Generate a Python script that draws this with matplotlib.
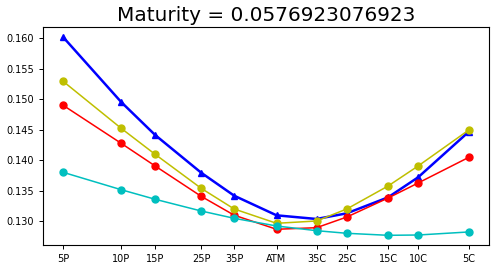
import matplotlib
matplotlib.use("Agg")
import matplotlib.pyplot as plt

# strike grid (non uniform spacing, as on the picture)
labels = ["5P", "10P", "15P", "25P", "35P", "ATM", "35C", "25C", "15C", "10C", "5C"]
strikes = [0.0, 58.0, 92.0, 138.0, 171.0, 213.4, 253.4, 283.7, 325.0, 355.0, 405.7]

vol_blue = [0.1602, 0.14956, 0.14415, 0.13797, 0.1342, 0.13098, 0.13038, 0.13131, 0.13393, 0.13721, 0.14469]
vol_yellow = [0.15295, 0.14525, 0.14098, 0.13541, 0.13202, 0.12967, 0.13005, 0.13202, 0.13579, 0.13907, 0.14497]
vol_red = [0.14902, 0.14279, 0.13907, 0.1341, 0.1310, 0.12869, 0.12895, 0.1307, 0.13382, 0.13628, 0.14049]
vol_cyan = [0.13803, 0.13518, 0.13361, 0.13169, 0.13049, 0.12923, 0.12846, 0.12803, 0.1277, 0.12775, 0.12825]

maturity = 0.0576923076923

fig = plt.figure(figsize=(5, 2.69), dpi=100)
ax = fig.add_axes([0.086, 0.089, 0.892, 0.811])

ax.plot(strikes, vol_blue, "b^-", lw=1.8, ms=5)
ax.plot(strikes, vol_red, "ro-", lw=1.1, ms=5)
ax.plot(strikes, vol_yellow, "yo-", lw=1.1, ms=5)
ax.plot(strikes, vol_cyan, "co-", lw=1.1, ms=5)

ax.set_xticks(strikes)
ax.set_xticklabels(labels)
ax.set_yticks([0.130, 0.135, 0.140, 0.145, 0.150, 0.155, 0.160])
ax.set_ylim(0.1261, 0.1619)
ax.tick_params(labelsize=7, length=3, width=0.7)
for s in ax.spines.values():
    s.set_linewidth(0.8)
ax.set_title("Maturity = " + str(maturity), fontsize=14.4, pad=4)

fig.savefig("out.png", dpi=100)
